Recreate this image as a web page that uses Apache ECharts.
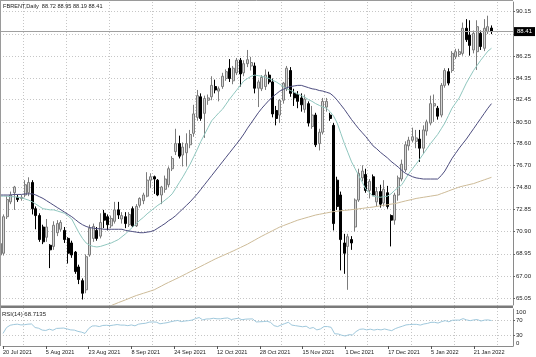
<!DOCTYPE html>
<html><head><meta charset="utf-8">
<script src="https://cdn.jsdelivr.net/npm/echarts@6/dist/echarts.min.js"></script>
<style>html,body{margin:0;padding:0;background:#fff}#c{width:536px;height:357px}</style>
</head><body><div id="c"></div>
<script>
const symbolName = 'FBRENT,Daily';
const dateLabels = ['20 Jul 2021','5 Aug 2021','23 Aug 2021','8 Sep 2021','24 Sep 2021','12 Oct 2021','28 Oct 2021','15 Nov 2021','1 Dec 2021','17 Dec 2021','5 Jan 2022','21 Jan 2022'];
const labelEvery = 12;
const totalSlots = 144;

const open = [68.85,69.0,72.2,73.5,74.3,73.9,73.8,74.1,74.3,75.2,72.9,72.3,71.3,70.4,69.7,69.6,70.8,71.1,71.0,70.3,
69.9,69.1,67.8,66.6,65.8,68.85,70.3,71.0,70.5,72.5,72.2,71.4,71.8,72.8,72.0,72.2,71.5,72.9,71.4,73.2,
73.6,74.0,75.4,75.7,75.4,74.1,74.6,75.0,76.4,77.9,78.6,77.6,77.8,78.5,79.5,80.9,82.7,81.25,82.4,82.7,
83.6,83.2,83.6,84.3,85.2,84.1,84.8,85.9,84.8,85.6,85.4,85.4,83.45,83.4,83.6,84.6,84.0,81.5,81.1,82.4,
83.4,85.0,83.0,82.9,82.6,81.6,82.1,80.1,81.1,78.6,79.6,81.8,81.1,80.2,75.4,74.1,69.9,69.6,70.2,71.3,
73.66,75.6,75.9,74.5,75.7,73.5,74.4,73.4,74.3,72.3,71.9,74.1,75.5,76.3,78.4,78.9,78.8,79.0,78.2,79.7,
80.4,81.9,81.7,81.1,83.7,84.9,85.0,86.2,86.4,86.5,88.7,88.1,86.8,86.65,88.26,86.95,88.4,88.72];
const high = [70.0,72.4,74.0,74.4,74.9,74.1,74.1,75.4,75.65,75.4,73.1,72.5,71.5,72.0,69.8,71.8,71.9,71.9,71.3,70.4,
70.1,69.2,68.0,66.8,68.9,71.5,71.6,71.3,72.5,72.8,72.4,72.3,73.5,73.5,72.6,72.6,72.6,73.1,73.3,73.9,
74.3,76.1,76.0,75.8,75.5,74.9,75.8,76.6,77.5,79.9,79.3,78.7,79.5,79.8,82.0,83.3,83.0,82.8,82.9,84.5,
84.2,83.6,84.8,85.1,86.0,85.4,86.1,86.1,85.9,86.8,86.2,85.7,84.2,84.6,85.1,84.9,84.3,81.9,82.5,84.0,
85.4,85.3,83.4,83.2,83.0,82.9,82.3,81.9,81.3,79.9,82.6,82.6,81.3,80.4,75.7,74.4,70.7,70.7,70.5,73.8,
76.4,76.7,76.4,75.5,75.9,74.8,75.0,75.4,74.9,72.4,74.3,75.8,77.2,78.8,79.2,80.0,79.8,79.8,80.2,80.7,
82.8,82.9,81.9,83.9,85.2,85.2,86.7,86.9,86.9,89.2,89.5,89.4,88.5,89.4,88.5,89.5,89.8,88.95];
const low = [67.4,68.8,72.0,73.3,72.8,73.5,73.6,73.9,74.0,72.4,71.1,70.0,69.8,70.0,67.7,69.3,70.5,70.9,69.9,68.1,
68.6,67.2,66.3,64.95,65.5,68.7,70.0,70.1,70.3,71.2,71.0,71.2,71.6,72.0,71.6,71.2,71.3,71.3,71.3,73.0,
73.3,73.9,74.7,74.2,74.0,73.3,74.3,74.8,76.2,77.6,77.3,76.6,76.6,78.2,79.2,80.6,80.6,79.1,82.0,82.4,
83.0,82.3,83.4,84.1,84.0,83.8,84.6,83.6,84.5,85.3,85.0,83.0,81.8,83.2,83.3,83.8,80.9,80.2,80.4,82.1,
83.2,82.7,81.9,81.7,81.4,81.3,80.1,79.9,78.3,78.0,79.4,81.4,80.6,71.0,72.8,67.5,67.2,65.8,69.3,70.9,
73.5,75.3,74.3,73.8,74.0,73.1,73.0,73.1,72.9,69.6,71.5,73.6,75.3,76.1,78.0,78.7,78.2,77.0,77.7,79.3,
80.2,80.5,80.7,80.9,83.5,83.7,84.8,86.0,86.2,86.3,87.5,86.3,86.5,85.05,86.8,86.7,88.2,88.19];
const close = [69.85,72.2,73.7,74.1,74.8,73.7,73.9,75.0,75.2,72.9,72.3,70.2,70.0,71.3,69.3,71.45,71.6,71.7,70.2,69.0,
68.85,67.4,66.7,65.5,68.7,71.2,71.35,70.3,71.7,71.9,71.5,72.05,72.8,72.35,72.3,71.6,72.4,71.4,73.1,73.8,
74.1,75.4,75.7,75.5,74.1,74.8,75.5,76.4,77.3,78.6,77.5,78.3,78.6,79.4,81.2,82.8,80.8,82.55,82.6,83.7,
83.3,83.4,84.5,84.9,84.3,85.2,85.9,84.7,85.6,85.95,85.7,83.45,84.0,84.4,84.6,84.0,81.2,80.8,82.4,83.9,
85.2,83.0,82.6,82.3,82.0,82.5,80.4,81.1,78.5,79.6,82.3,82.3,80.8,71.6,73.1,70.2,69.0,70.45,69.9,73.66,
76.0,76.2,74.5,75.3,74.1,74.4,73.3,74.6,73.1,71.9,74.1,75.6,76.8,78.5,78.9,79.2,79.1,78.2,79.8,80.5,
82.1,82.1,81.0,83.7,85.0,83.9,86.5,86.65,86.65,88.7,87.7,87.2,88.26,88.84,87.1,88.7,88.84,88.41];

const maFast = [74.0,74.0,74.0,73.95,73.95,73.9,73.85,73.75,73.65,73.5,73.3,73.1,72.9,72.85,72.8,72.8,72.7,72.6,72.5,72.25,
72.0,71.4,70.8,70.3,69.9,69.7,69.6,69.55,69.6,69.7,69.8,69.9,70.05,70.2,70.45,70.7,71.0,71.3,71.6,71.9,
72.15,72.45,72.7,72.95,73.2,73.4,73.65,73.9,74.2,74.7,75.2,75.7,76.25,76.8,77.45,78.1,78.8,79.4,80.0,80.6,
80.95,81.3,81.6,82.05,82.5,82.9,83.3,83.7,84.1,84.3,84.5,84.6,84.55,84.5,84.4,84.3,84.15,84.0,83.8,83.6,
83.4,83.25,83.1,82.95,82.8,82.65,82.45,82.3,82.1,81.95,81.8,81.7,81.4,81.0,80.4,79.5,78.6,77.8,77.0,76.4,
75.8,75.2,74.6,74.3,74.0,73.95,73.9,73.95,74.0,74.2,74.5,74.75,75.0,75.5,76.0,76.4,76.8,77.25,77.7,78.15,
78.6,79.0,79.4,79.9,80.4,81.05,81.7,82.15,82.6,83.25,83.9,84.45,85.0,85.45,85.9,86.3,86.7,86.95];
const maSlow = [74.1,74.1,74.1,74.1,74.15,74.15,74.15,74.2,74.2,74.2,74.1,73.95,73.8,73.6,73.4,73.2,73.0,72.8,72.6,72.4,
72.2,71.95,71.7,71.5,71.35,71.25,71.2,71.15,71.15,71.1,71.1,71.1,71.1,71.1,71.1,71.0,70.95,70.9,70.85,70.8,
70.8,70.85,70.9,71.0,71.2,71.4,71.6,71.85,72.05,72.3,72.6,72.9,73.2,73.5,73.85,74.2,74.6,75.0,75.4,75.8,
76.2,76.6,77.0,77.4,77.8,78.2,78.6,79.0,79.45,79.95,80.4,80.85,81.3,81.7,82.05,82.4,82.7,82.95,83.2,83.35,
83.5,83.6,83.65,83.7,83.7,83.6,83.5,83.4,83.35,83.25,83.2,83.1,83.0,82.75,82.4,82.0,81.6,81.15,80.7,80.3,
79.9,79.55,79.2,78.8,78.4,78.15,77.85,77.6,77.35,77.05,76.8,76.55,76.25,76.0,75.85,75.7,75.6,75.55,75.5,75.5,
75.5,75.5,75.5,75.8,76.2,76.75,77.3,77.75,78.2,78.6,79.0,79.45,79.9,80.35,80.8,81.25,81.7,82.1];
const ma200Start = 28;
const ma200 = [64.1,64.2,64.3,64.42,64.55,64.68,64.8,64.92,65.05,65.18,65.3,65.4,65.5,65.6,65.7,65.8,65.97,66.13,66.3,66.45,
66.6,66.75,66.9,67.06,67.22,67.38,67.54,67.7,67.86,68.02,68.18,68.34,68.5,68.64,68.78,68.92,69.06,69.2,69.35,69.5,
69.65,69.8,69.98,70.15,70.33,70.5,70.66,70.82,70.98,71.14,71.3,71.42,71.54,71.66,71.78,71.9,71.99,72.08,72.17,72.26,
72.35,72.41,72.47,72.53,72.59,72.65,72.68,72.72,72.75,72.78,72.82,72.85,72.89,72.93,72.97,73.01,73.05,73.1,73.15,73.2,
73.25,73.3,73.35,73.42,73.5,73.58,73.65,73.72,73.8,73.85,73.9,73.95,74.0,74.05,74.1,74.22,74.33,74.45,74.57,74.68,
74.8,74.88,74.95,75.03,75.1,75.21,75.32,75.43,75.54,75.65];
const rsi = [34,50,56,58,59,57,57.5,59,59.5,50,48,43,42,45.5,42.5,47.5,48,48.5,46,43.5,
43,39.5,37.5,34,47,54,54.5,52.5,55.5,56,55,56.5,58,56.5,56.5,55,57,54.5,59,60.5,
61.5,64.5,65,64.5,60,61.5,63,65.5,67.5,69,66,67.5,68.5,70,74,77,70.5,73,73.2,75,
73.5,73.5,75,75.8,71.5,73.5,75,71,72.5,73,73.2,65,65.5,66,67,64,55,52.5,57,60.5,
64,56.5,55,53.5,52,53.5,47.5,50,43.5,46,52.5,52.5,50.5,33,32.5,29,27,30.5,30,39,
45,46,43.5,45.5,43,45,43.5,46,43.5,41.5,47,50.5,53.5,57,58,58.5,58.5,56.5,59.5,61,
64,64,62,66,68.5,65.5,69.5,70,70,74,70.5,68.5,70.5,71.5,67.5,70,70.5,68.7];
const rsiLast = 68.7135;
const priceTicks = [65.05,67.00,68.95,70.90,72.85,74.80,76.70,78.60,80.50,82.45,84.35,86.25,88.20,90.15];
const priceLabels = [65.05,67.00,68.95,70.90,72.85,74.80,76.70,78.60,80.50,82.45,84.35,86.25,90.15];
const rsiLevels = [30,70];
const rsiLabels = [0,30,70,100];

const FONT = 'Liberation Sans';
const cats = Array.from({length: totalSlots}, (_, i) => String(i));
const candles = open.map((o, i) => [o, close[i], low[i], high[i]]);
const ma200Full = Array.from({length: close.length}, (_, i) => i < ma200Start ? null : ma200[i - ma200Start]);
const last = close[close.length - 1];
const hdr = symbolName + '  ' + [open, high, low, close].map(a => a[a.length - 1].toFixed(2)).join(' ');

const chart = echarts.init(document.getElementById('c'), null, {renderer: 'canvas'});
const dotted = {color: '#c6c6c6', width: 1, type: [1, 2]};
chart.setOption({
  animation: false,
  backgroundColor: '#fff',
  grid: [
    {left: 0, right: 23, top: 2, height: 303},
    {left: 0, right: 23, top: 309, height: 37},
    {left: 23.3, right: 23, top: 2, height: 344}
  ],
  xAxis: [
    {type: 'category', gridIndex: 0, data: cats, boundaryGap: false,
     axisLine: {show: false}, axisTick: {show: false}, axisLabel: {show: false}, splitLine: {show: false}},
    {type: 'category', gridIndex: 1, data: cats, boundaryGap: false,
     axisLine: {show: true, lineStyle: {color: '#8a8a8a'}},
     axisTick: {show: true, interval: labelEvery - 1, length: 3, lineStyle: {color: '#555'}},
     axisLabel: {show: true, interval: labelEvery - 1, align: 'left', margin: 3, fontSize: 5.6, fontFamily: FONT, color: '#222',
       formatter: (v, idx) => dateLabels[Math.round(idx / labelEvery)] || ''},
     splitLine: {show: false}},
    {type: 'value', gridIndex: 2, min: 0, max: 136.5, interval: labelEvery,
     axisLine: {show: false}, axisTick: {show: false}, axisLabel: {show: false},
     splitLine: {show: true, showMaxLine: false, lineStyle: dotted}}
  ],
  yAxis: [
    {type: 'value', gridIndex: 0, position: 'right', min: 64.47, max: 91.0,
     axisLine: {show: true, lineStyle: {color: '#8a8a8a'}},
     axisTick: {show: true, length: 2, customValues: priceTicks, lineStyle: {color: '#666'}},
     axisLabel: {show: true, customValues: priceLabels, margin: 3, fontSize: 6, fontFamily: FONT, color: '#222',
       formatter: v => Number(v).toFixed(2)},
     splitLine: {show: true, lineStyle: dotted}},
    {type: 'value', gridIndex: 1, position: 'right', min: 0, max: 100,
     axisLine: {show: true, lineStyle: {color: '#8a8a8a'}},
     axisTick: {show: true, length: 2, customValues: rsiLevels, lineStyle: {color: '#666'}},
     axisLabel: {show: true, customValues: rsiLabels, margin: 3, fontSize: 6, fontFamily: FONT, color: '#222',
       verticalAlignMinLabel: 'bottom', verticalAlignMaxLabel: 'top'},
     splitLine: {show: true, lineStyle: dotted}},
    {type: 'value', gridIndex: 2, min: 0, max: 1, show: false}
  ],
  series: [
    {type: 'candlestick', xAxisIndex: 0, yAxisIndex: 0, data: candles, barWidth: 2.5, z: 3,
     itemStyle: {color: '#d6d6d6', color0: '#000', borderColor: '#7c7c7c', borderColor0: '#000', borderWidth: 1},
     markLine: {symbol: ['none', 'none'], silent: true, animation: false,
       data: [{yAxis: last}],
       lineStyle: {color: '#a0a0a0', width: 1, type: 'solid'},
       label: {show: true, position: 'end', distance: 1, formatter: last.toFixed(2), color: '#fff',
         backgroundColor: '#000', padding: [2, 3, 1, 3], fontSize: 6, fontFamily: FONT}}},
    {type: 'line', xAxisIndex: 0, yAxisIndex: 0, data: maFast, symbol: 'none', z: 4,
     lineStyle: {color: '#8fc6be', width: 1}},
    {type: 'line', xAxisIndex: 0, yAxisIndex: 0, data: maSlow, symbol: 'none', z: 4,
     lineStyle: {color: '#4c4c7e', width: 1}},
    {type: 'line', xAxisIndex: 0, yAxisIndex: 0, data: ma200Full, symbol: 'none', z: 4,
     lineStyle: {color: '#cdbb98', width: 1}},
    {type: 'line', xAxisIndex: 1, yAxisIndex: 1, data: rsi, symbol: 'none', z: 4,
     lineStyle: {color: '#9fc8dc', width: 1}}
  ],
  graphic: [
    {type: 'text', left: 3, top: 3, z: 10, style: {text: hdr, fontSize: 5.6, fontFamily: FONT, fill: '#222'}},
    {type: 'text', left: 2, top: 311, z: 10, style: {text: 'RSI(14) ' + rsiLast.toFixed(4), fontSize: 6, fontFamily: FONT, fill: '#222'}},
    {type: 'rect', z: 10, shape: {x: 0, y: 305.5, width: 513, height: 2.5}, style: {fill: '#7a7a7a'}},
    {type: 'line', z: 10, shape: {x1: 0, y1: 0.5, x2: 513, y2: 0.5}, style: {stroke: '#9a9a9a', lineWidth: 1}},
    {type: 'line', z: 10, shape: {x1: 0.5, y1: 0, x2: 0.5, y2: 346}, style: {stroke: '#9a9a9a', lineWidth: 1}}
  ]
});
</script></body></html>
